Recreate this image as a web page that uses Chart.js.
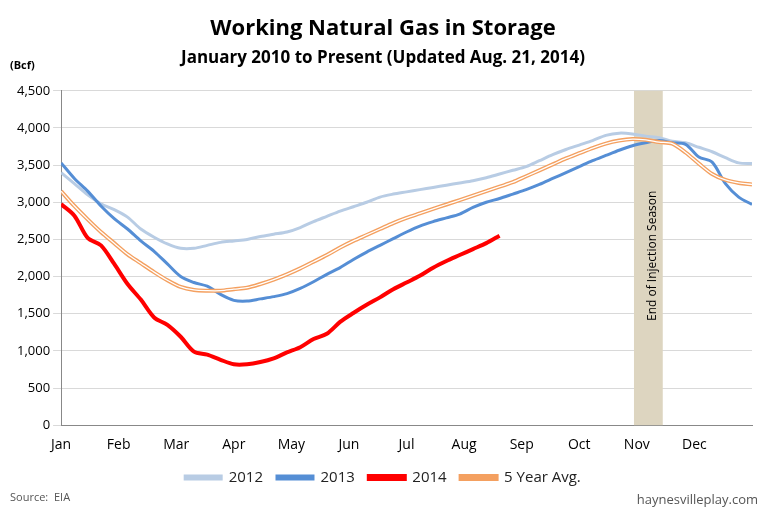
<!DOCTYPE html>
<html><head><meta charset="utf-8">
<script src="https://cdn.jsdelivr.net/npm/chart.js@4"></script>
<style>body{margin:0;background:#fff}#w{width:768px;height:507px;position:relative}</style>
</head><body><div id="w"><canvas id="c"></canvas></div>
<script>
const months=["Jan","Feb","Mar","Apr","May","Jun","Jul","Aug","Sep","Oct","Nov","Dec"];
const s2012=[3400,3250,3100,2980,2900,2800,2640,2530,2440,2380,2380,2420,2460,2480,2500,2540,2570,2600,2660,2740,2810,2880,2940,3000,3070,3110,3140,3170,3200,3230,3260,3290,3330,3380,3430,3480,3560,3640,3710,3770,3830,3900,3930,3920,3890,3870,3820,3800,3740,3680,3600,3530,3520];
const s2013=[3530,3320,3150,2950,2780,2640,2480,2340,2170,2000,1920,1870,1760,1680,1670,1700,1730,1770,1840,1930,2030,2120,2230,2330,2420,2510,2600,2680,2740,2790,2840,2930,3000,3050,3110,3170,3240,3320,3400,3480,3560,3630,3700,3760,3800,3830,3800,3780,3610,3540,3250,3070,2970];
const s2014=[2975,2820,2520,2420,2170,1900,1690,1450,1350,1190,990,950,880,820,820,850,900,980,1050,1160,1230,1390,1510,1620,1720,1830,1920,2010,2120,2210,2290,2370,2450,2550];
const s5yr=[3150,2950,2770,2600,2450,2300,2180,2060,1950,1860,1820,1810,1810,1830,1850,1900,1960,2030,2110,2200,2290,2390,2480,2560,2640,2720,2790,2850,2910,2970,3030,3090,3150,3210,3270,3350,3430,3510,3590,3660,3730,3790,3830,3850,3840,3810,3790,3670,3520,3380,3300,3260,3240];
const band=[9.95,10.45];
const WEEKS=52;
const pts=a=>a.map((v,i)=>({x:i*12/WEEKS,y:v}));
const ds=(l,d,c,w,o)=>({label:l,data:pts(d),borderColor:c,backgroundColor:c,borderWidth:w,pointRadius:0,tension:0.3,order:o});
const bandPlugin={id:'band',beforeDatasetsDraw(ch){const {ctx,chartArea:a,scales:{x}}=ch;const x0=x.getPixelForValue(band[0]),x1=x.getPixelForValue(band[1]);ctx.save();ctx.fillStyle='#ddd5c0';ctx.fillRect(x0,a.top,x1-x0,a.bottom-a.top);ctx.translate((x0+x1)/2+4,a.top+165);ctx.rotate(-Math.PI/2);ctx.fillStyle='#000';ctx.font='12px "Open Sans"';ctx.textAlign='center';ctx.fillText('End of Injection Season',0,0);ctx.restore();},
afterDraw(ch){const ctx=ch.ctx;ctx.save();ctx.font='bold 11px "Open Sans"';ctx.fillStyle='#000';ctx.fillText('(Bcf)',10,66);ctx.font='11px "Open Sans"';ctx.fillStyle='#555';ctx.fillText('Source:  EIA',10,498);ctx.font='13px "Open Sans"';ctx.textAlign='right';ctx.fillText('haynesvilleplay.com',758,500);ctx.restore();}};
new Chart(document.getElementById('c'),{type:'line',
data:{datasets:[ds('2012',s2012,'#b8cce4',3,4),ds('2013',s2013,'#558ed5',3,3),ds('2014',s2014,'#ff0000',4,0),ds('5 Year Avg.',s5yr,'#f4a060',4,2),ds('_w',s5yr,'#ffffff',1.3,1)]},
options:{responsive:true,maintainAspectRatio:false,animation:false,
layout:{padding:{left:14,right:16,top:0,bottom:12}},
plugins:{title:{display:true,text:'Working Natural Gas in Storage',color:'#000',font:{size:22,weight:'bold',family:'Open Sans'},padding:{top:16,bottom:6}},
subtitle:{display:true,text:'January 2010 to Present (Updated Aug. 21, 2014)',color:'#000',font:{size:17,weight:'bold',family:'Open Sans'},padding:{bottom:22}},
legend:{position:'bottom',labels:{filter:i=>i.text!=='_w',sort:(a,b)=>a.datasetIndex-b.datasetIndex,boxWidth:36,boxHeight:3,color:'#222',font:{size:15,family:'Open Sans'},padding:14}},tooltip:{enabled:false}},
scales:{x:{type:'linear',min:0,max:12,ticks:{stepSize:1,callback:v=>months[v]||'',color:'#000',font:{size:14,family:'Open Sans'}},grid:{display:false},border:{color:'#888'}},
y:{min:0,max:4500,ticks:{stepSize:500,color:'#000',font:{size:13,family:'Open Sans'},callback:v=>v.toLocaleString('en-US')},grid:{color:'#d9d9d9'},border:{color:'#888'}}}},
plugins:[bandPlugin]});
</script></body></html>
